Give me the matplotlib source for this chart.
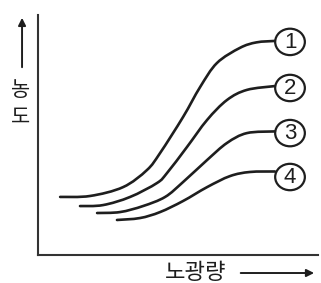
import numpy as np
import matplotlib.pyplot as plt
from matplotlib.patches import Ellipse, PathPatch
from matplotlib.path import Path

plt.rcParams['font.family'] = ['Noto Sans CJK KR', 'DejaVu Sans']

# curves (x: exposure, y: density, arbitrary units 0-100)
x1 = [7.9, 18.6, 30.4, 38.9, 43.6, 51.8, 57.9, 63.9, 72.1, 78.0, 84.6]
y1 = [24.2, 24.6, 28.3, 35.4, 42.5, 57.5, 70.0, 80.0, 86.3, 88.6, 89.2]
x2 = [15.0, 23.2, 32.9, 42.5, 46.1, 53.2, 60.4, 67.5, 74.6, 84.6]
y2 = [20.4, 20.8, 24.2, 30.0, 34.2, 45.0, 56.3, 64.6, 68.8, 70.4]
x3 = [21.1, 29.3, 37.5, 45.4, 51.8, 60.4, 67.5, 74.6, 84.6]
y3 = [17.5, 17.9, 20.4, 24.2, 30.4, 39.6, 46.7, 50.8, 51.5]
x4 = [28.2, 36.4, 43.6, 51.8, 60.4, 68.6, 75.7, 84.6]
y4 = [14.6, 15.4, 17.9, 22.5, 28.3, 32.9, 34.6, 34.8]

curves = [(x1, y1), (x2, y2), (x3, y3), (x4, y4)]
labels = ['1', '2', '3', '4']
label_x = 90.0
label_y = [88.8, 69.6, 50.8, 32.5]

xlabel = '노광량'
ylabel = '농도'

ink = '#1e1e1e'


def smooth_path(xs, ys):
    # catmull-rom through the read points, drawn as cubic bezier segments
    p = np.column_stack([xs, ys])
    verts = [p[0]]
    codes = [Path.MOVETO]
    for i in range(len(p) - 1):
        p0 = p[i - 1] if i > 0 else p[i]
        p3 = p[i + 2] if i + 2 < len(p) else p[i + 1]
        c1 = p[i] + (p[i + 1] - p0) / 6
        c2 = p[i + 1] - (p3 - p[i]) / 6
        verts += [c1, c2, p[i + 1]]
        codes += [Path.CURVE4] * 3
    return Path(verts, codes)


fig = plt.figure(figsize=(3.21, 2.83), dpi=100)
ax = fig.add_axes([0.1184, 0.0989, 0.8723, 0.848])
ax.set_xlim(0, 100)
ax.set_ylim(0, 100)
ax.set_xticks([])
ax.set_yticks([])
for s in ['top', 'right']:
    ax.spines[s].set_visible(False)
for s in ['left', 'bottom']:
    ax.spines[s].set_linewidth(1.5)
    ax.spines[s].set_color('#333333')

for (xs, ys) in curves:
    ax.add_patch(PathPatch(smooth_path(xs, ys), fill=False, ec=ink,
                           lw=1.9, capstyle='round'))

for lab, ly in zip(labels, label_y):
    ax.add_patch(Ellipse((label_x, ly), 10.6, 11.0, fill=False,
                         ec=ink, lw=1.6, clip_on=False))
    ax.text(label_x, ly - 0.3, lab, ha='center', va='center', fontsize=16,
            family='Liberation Sans', color=ink)

# axis labels with arrows
ax.text(0.564, -0.072, xlabel, transform=ax.transAxes, ha='center',
        va='center', fontsize=16, color=ink)
ax.annotate('', xy=(0.996, -0.075), xytext=(0.714, -0.075),
            xycoords='axes fraction',
            arrowprops=dict(arrowstyle='-|>', color=ink, lw=1.4,
                            mutation_scale=11))
# y label is written as stacked upright characters
ax.text(-0.064, 0.633, '\n'.join(ylabel), transform=ax.transAxes,
        ha='center', va='center', fontsize=15, linespacing=1.3, color=ink)
ax.annotate('', xy=(-0.057, 1.0), xytext=(-0.057, 0.771),
            xycoords='axes fraction',
            arrowprops=dict(arrowstyle='-|>', color=ink, lw=1.4,
                            mutation_scale=11))

fig.savefig('out.png', dpi=100)
